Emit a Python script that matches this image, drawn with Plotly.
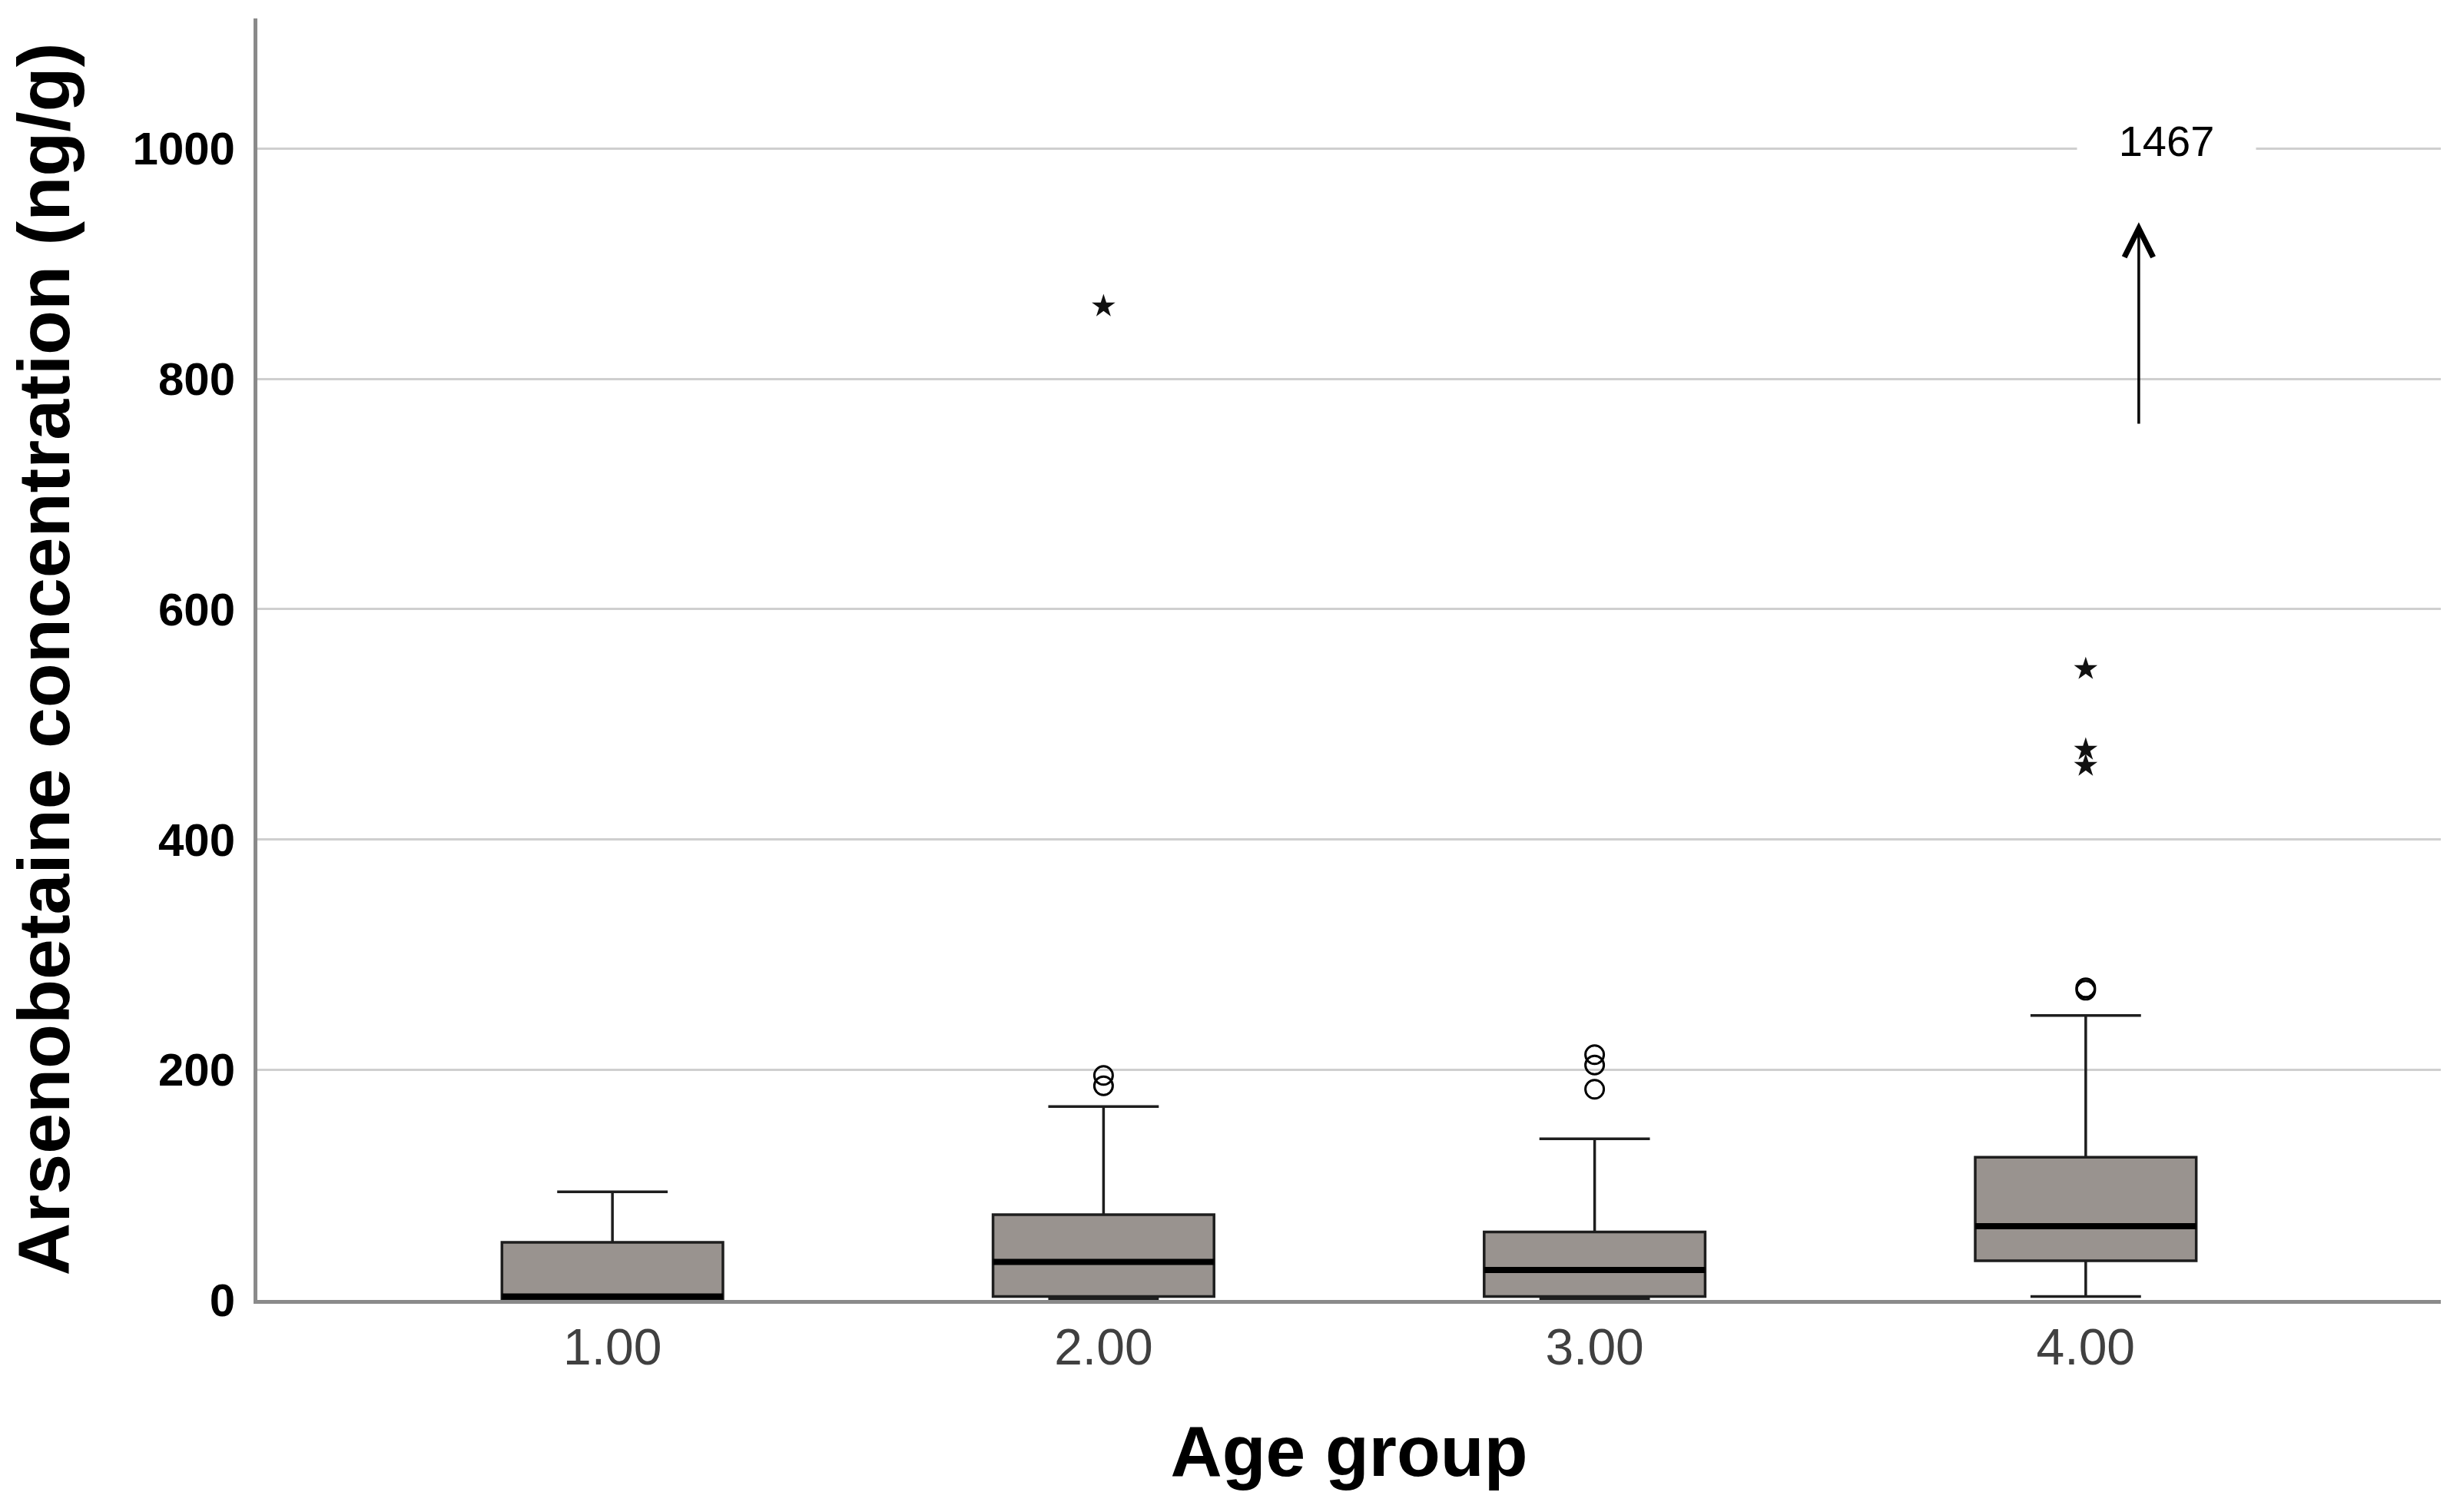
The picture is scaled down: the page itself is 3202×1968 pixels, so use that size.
import plotly.graph_objects as go

# ---------------- data ----------------
age_groups = ["1.00", "2.00", "3.00", "4.00"]
lower_whisker = [0, 1, 1, 3]
q1 = [1, 3, 3, 34]
median = [3, 33, 26, 64]
q3 = [50, 74, 59, 124]
upper_whisker = [94, 168, 140, 247]

# circles (outliers) and stars (extreme values) per group
outliers = [[], [186, 195], [183, 204, 213], [269, 271]]
extremes = [[], [863], [], [464, 478, 548]]

offscale_group = "4.00"
offscale_value = 1467

y_ticks = [0, 200, 400, 600, 800, 1000]

# ---------------- figure ----------------
positions = [i + 1 for i in range(len(age_groups))]
box_w = 0.45

fig = go.Figure()

fig.add_trace(go.Box(
    x=positions,
    q1=q1, median=median, q3=q3,
    lowerfence=lower_whisker, upperfence=upper_whisker,
    boxpoints=False,
    width=box_w,
    whiskerwidth=0.5,
    fillcolor="#99938f",
    line=dict(color="#1e1e1e", width=3.5),
    showlegend=False,
    hoverinfo="skip",
))

# thick median lines
mx, my = [], []
for p, m in zip(positions, median):
    mx += [p - box_w / 2, p + box_w / 2, None]
    my += [m, m, None]
fig.add_trace(go.Scatter(x=mx, y=my, mode="lines",
                         line=dict(color="black", width=8),
                         showlegend=False, hoverinfo="skip"))

# outlier circles
ox, oy = [], []
for p, vals in zip(positions, outliers):
    ox += [p] * len(vals)
    oy += vals
fig.add_trace(go.Scatter(x=ox, y=oy, mode="markers",
                         marker=dict(symbol="circle-open", size=24,
                                     color="black", line=dict(width=3, color="black")),
                         showlegend=False, hoverinfo="skip"))

# extreme stars
sx, sy = [], []
for p, vals in zip(positions, extremes):
    sx += [p] * len(vals)
    sy += vals
fig.add_trace(go.Scatter(x=sx, y=sy, mode="markers",
                         marker=dict(symbol="star", size=23, color="#111111",
                                     line=dict(width=0)),
                         showlegend=False, hoverinfo="skip"))

# off-scale value indicator
p_off = positions[age_groups.index(offscale_group)]
fig.add_annotation(x=p_off + 0.108, y=936, ax=p_off + 0.108, ay=760,
                   xref="x", yref="y", axref="x", ayref="y",
                   text="", showarrow=True, arrowhead=5, arrowsize=2.1,
                   arrowwidth=3.5, arrowcolor="black")
fig.add_annotation(x=p_off + 0.164, y=1007, xref="x", yref="y",
                   text=str(offscale_value), showarrow=False,
                   font=dict(family="Liberation Sans, Arial, sans-serif", size=56, color="black"),
                   bgcolor="white", width=230, height=80)

fig.update_layout(
    width=3202, height=1968,
    margin=dict(l=335, r=25, t=24, b=276),
    paper_bgcolor="white", plot_bgcolor="white",
    font=dict(family="Liberation Sans, Arial, sans-serif", color="black"),
)

fig.update_xaxes(
    range=[0.277, 4.723],
    tickvals=positions, ticktext=age_groups,
    tickfont=dict(family="Liberation Sans Narrow, Arial Narrow, Liberation Sans, Arial",
                  size=66, color="#404040"),
    ticks="", ticklabelstandoff=0,
    showgrid=False, zeroline=False,
    showline=True, linecolor="#8a8a8a", linewidth=5,
    title=dict(text="<b>Age group</b>",
               font=dict(family="Liberation Sans, Arial, sans-serif", size=93, color="black"),
               standoff=68),
)

fig.update_yaxes(
    range=[0, 1113],
    tickvals=y_ticks, ticktext=[f"<b>{v}</b>" for v in y_ticks],
    tickfont=dict(family="Liberation Sans, Arial, sans-serif", size=60, color="black"),
    ticks="", ticklabelstandoff=12,
    showgrid=True, gridcolor="#cfcfcf", gridwidth=3,
    zeroline=False,
    showline=True, linecolor="#8a8a8a", linewidth=5,
    title=dict(text="<b>Arsenobetaine concentration (ng/g)</b>",
               font=dict(family="Liberation Sans, Arial, sans-serif", size=95, color="black"),
               standoff=52),
)

fig.write_html("out.html", config={"displayModeBar": False},
               post_script="document.body.style.margin='0';")
